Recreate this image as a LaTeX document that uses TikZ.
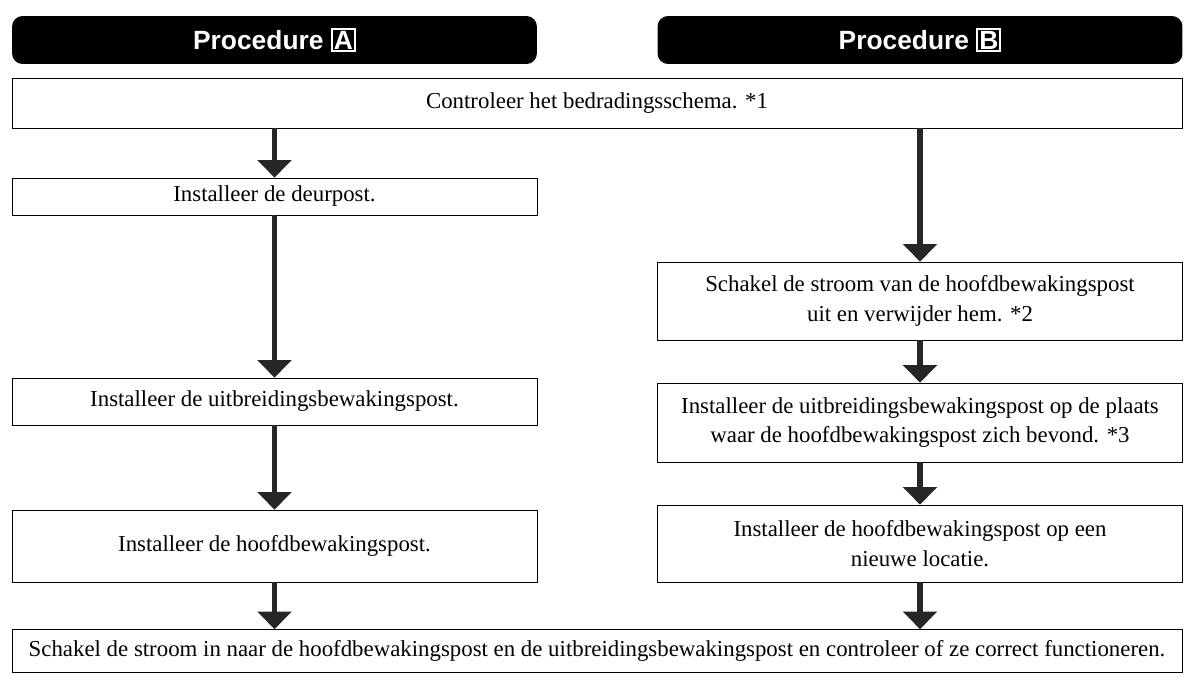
\documentclass[tikz,border=0pt]{standalone}
\usepackage{fontspec}
\setmainfont{Liberation Serif}
\newfontfamily\headfont{Liberation Sans}
\usetikzlibrary{arrows.meta}
\tikzset{
    head/.style = {rectangle, rounded corners=6pt, fill=black, text=white, minimum width=10.5cm, minimum height=0.96cm, font=\headfont\bfseries\fontsize{15}{17}\selectfont},
    stepbox/.style = {rectangle, draw=black, thin, align=center, minimum width=10.5cm, font=\fontsize{13}{17}\selectfont},
    wide/.style = {stepbox, minimum width=23.4cm},
    flow/.style = {-{Triangle[length=10pt,width=19pt]}, line width=3.4pt, black!85},
}
\newcommand{\boxletter}[1]{\setlength{\fboxsep}{0.5pt}\setlength{\fboxrule}{1.2pt}\fcolorbox{white}{black}{#1}}

\begin{document}
\begin{tikzpicture}[x=0.02cm,y=-0.02cm]
\path[use as bounding box] (0,0) rectangle (1192,676);
%
\node[head] at (274.5,40) (ha) {Procedure \boxletter{A}};
\node[head] at (920,40) (hb) {Procedure \boxletter{B}};
%
\node[wide,minimum height=1cm] at (597,103) (chk) {Controleer het bedradingsschema. *1};
\node[stepbox,minimum height=0.74cm] at (274.5,196.5) (a1) {Installeer de deurpost.};
\node[stepbox,minimum height=0.94cm] at (274.5,401.5) (a2) {Installeer de uitbreidingsbewakingspost.};
\node[stepbox,minimum height=1.44cm] at (274.5,546) (a3) {Installeer de hoofdbewakingspost.};
\node[stepbox,minimum height=1.56cm] at (920,301) (b1) {Schakel de stroom van de hoofdbewakingspost\\uit en verwijder hem. *2};
\node[stepbox,minimum height=1.58cm] at (920,422.5) (b2) {Installeer de uitbreidingsbewakingspost op de plaats\\waar de hoofdbewakingspost zich bevond. *3};
\node[stepbox,minimum height=1.54cm] at (920,543.5) (b3) {Installeer de hoofdbewakingspost op een\\nieuwe locatie.};
\node[wide,minimum height=0.86cm] at (597,651) (end) {Schakel de stroom in naar de hoofdbewakingspost en de uitbreidingsbewakingspost en controleer of ze correct functioneren.};
%
\draw[flow] (a1.north |- chk.south) -- (a1);
\draw[flow] (a1) -- (a2);
\draw[flow] (a2) -- (a3);
\draw[flow] (a3) -- (a3.south |- end.north);
\draw[flow] (b1.north |- chk.south) -- (b1);
\draw[flow] (b1) -- (b2);
\draw[flow] (b2) -- (b3);
\draw[flow] (b3) -- (b3.south |- end.north);

\end{tikzpicture}
\end{document}
